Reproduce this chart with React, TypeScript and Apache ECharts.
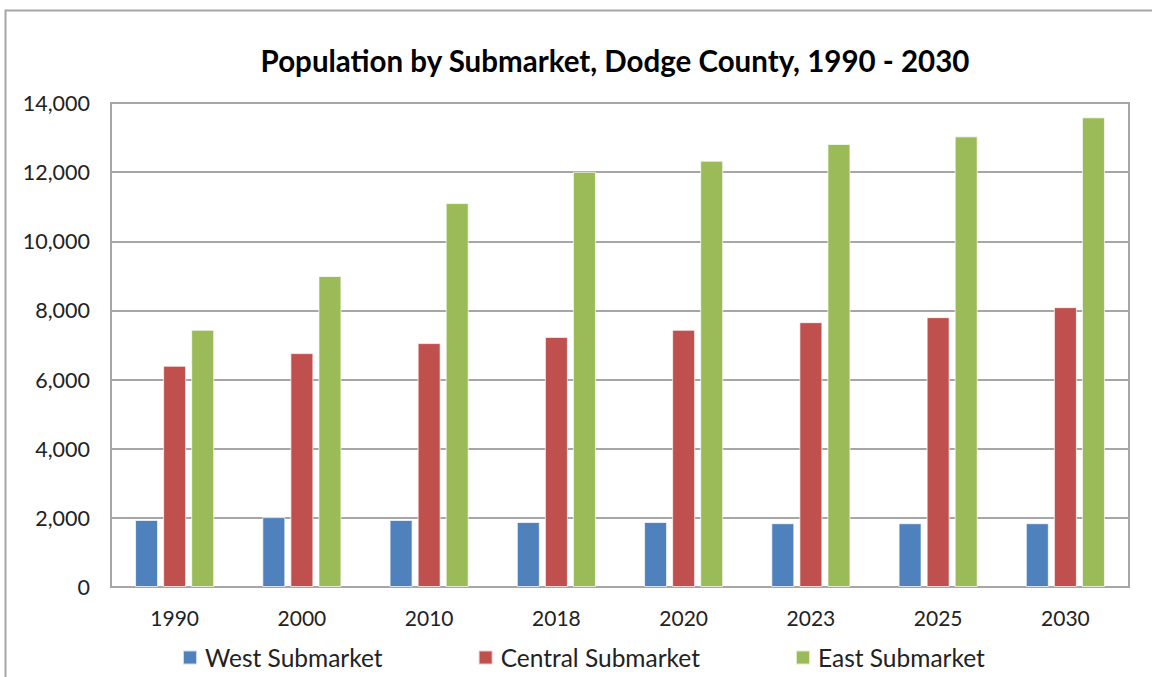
import React, { useEffect, useRef } from "react";
import * as echarts from "echarts";

const categories = ["1990", "2000", "2010", "2018", "2020", "2023", "2025", "2030"];
const westValues = [1940, 2020, 1940, 1880, 1880, 1845, 1845, 1845];
const centralValues = [6400, 6765, 7055, 7235, 7440, 7660, 7805, 8095];
const eastValues = [7440, 8995, 11105, 12010, 12330, 12815, 13035, 13585];
const seriesNames = ["West Submarket", "Central Submarket", "East Submarket"];
const colors = ["#4F81BD", "#C0504D", "#9BBB59"];
const titleText = "Population by Submarket, Dodge County, 1990 - 2030";

const FONT = "Lato, 'Open Sans', sans-serif";

export default function App() {
  const ref = useRef<HTMLDivElement>(null);
  useEffect(() => {
    document.body.style.margin = "0";
    const chart = echarts.init(ref.current!, null, { renderer: "svg" });
    const data = [westValues, centralValues, eastValues];
    chart.setOption({
      animation: false,
      backgroundColor: "#ffffff",
      textStyle: { fontFamily: FONT },
      graphic: [
        {
          type: "rect",
          shape: { x: 5.5, y: 10.5, width: 1300, height: 800 },
          style: { fill: "none", stroke: "#a6a6a6", lineWidth: 2 },
          silent: true,
        },
        {
          type: "text",
          x: 615,
          y: 60,
          style: {
            text: titleText,
            fontFamily: FONT,
            fontSize: 29.5,
            fontWeight: "bold",
            fill: "#000",
            align: "center",
            verticalAlign: "middle",
          },
        },
      ],
      legend: {
        left: 182,
        top: 645,
        padding: 0,
        itemWidth: 14,
        itemHeight: 14,
        itemGap: 95,
        icon: "rect",
        textStyle: { fontFamily: FONT, fontSize: 24.5, color: "#222", padding: [0, 0, 0, 3] },
        data: seriesNames,
      },
      grid: { left: 111, top: 103, right: 23, bottom: 90, show: true, borderColor: "#a6a6a6", borderWidth: 2 },
      xAxis: {
        type: "category",
        data: categories,
        axisLine: { lineStyle: { color: "#a6a6a6", width: 2 } },
        axisTick: { show: false },
        axisLabel: { fontFamily: FONT, fontSize: 21, color: "#222", margin: 20 },
      },
      yAxis: {
        type: "value",
        min: 0,
        max: 14000,
        interval: 2000,
        axisLine: { show: true, lineStyle: { color: "#a6a6a6", width: 2 } },
        axisTick: { show: false },
        splitLine: { lineStyle: { color: "#a6a6a6", width: 2 } },
        axisLabel: {
          fontFamily: FONT,
          fontSize: 21.5,
          color: "#222",
          margin: 21,
          formatter: (v: number) => v.toLocaleString("en-US"),
        },
      },
      series: data.map((d, i) => ({
        name: seriesNames[i],
        type: "bar",
        data: d,
        barWidth: 23,
        barGap: "22%",
        itemStyle: { color: colors[i], borderColor: "rgba(255,255,255,0.7)", borderWidth: 1 },
      })),
    });
    return () => chart.dispose();
  }, []);
  return <div ref={ref} style={{ width: 1152, height: 677 }} />;
}
